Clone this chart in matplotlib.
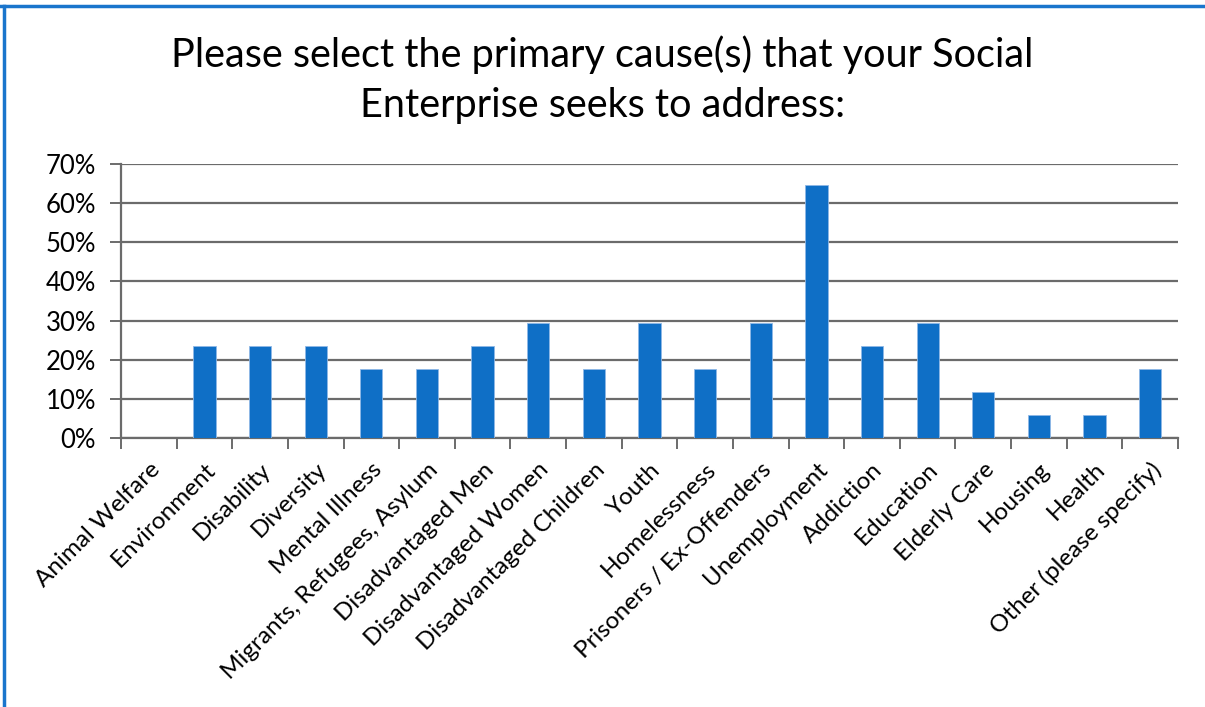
import matplotlib.pyplot as plt
import matplotlib.lines as mlines
import numpy as np
from matplotlib.ticker import PercentFormatter

plt.rcParams['font.family'] = ['Lato', 'DejaVu Sans']

causes = ['Animal Welfare', 'Environment', 'Disability', 'Diversity', 'Mental Illness',
          'Migrants, Refugees, Asylum', 'Disadvantaged Men', 'Disadvantaged Women',
          'Disadvantaged Children', 'Youth', 'Homelessness', 'Prisoners / Ex-Offenders',
          'Unemployment', 'Addiction', 'Education', 'Elderly Care', 'Housing', 'Health',
          'Other (please specify)']
share = [0.0, 23.5, 23.5, 23.5, 17.6, 17.6, 23.5, 29.4, 17.6, 29.4, 17.6, 29.4,
         64.7, 23.5, 29.4, 11.8, 5.9, 5.9, 17.6]
y_ticks = [0, 10, 20, 30, 40, 50, 60, 70]

bar_color = '#0f6fc6'
grid_color = '#6b6b6b'

fig = plt.figure(figsize=(12.05, 7.07), dpi=100)
ax = fig.add_axes([121 / 1205, 269 / 707, 1057 / 1205, 274 / 707])

x = np.arange(len(causes))
ax.bar(x, share, width=0.4, color=bar_color, edgecolor='#8fb8e6', linewidth=0.6, zorder=3)

ax.set_xlim(-0.5, len(causes) - 0.5)
ax.set_ylim(0, 70)
ax.set_yticks(y_ticks)
ax.yaxis.set_major_formatter(PercentFormatter(decimals=0))
ax.grid(axis='y', color=grid_color, linewidth=1.6, zorder=0)

# category boundary ticks on the x axis, labels centred under bars
ax.set_xticks(np.arange(len(causes) + 1) - 0.5)
ax.set_xticklabels([])
ax.set_xticks(x, minor=True)
ax.set_xticklabels(causes, minor=True, rotation=45, ha='right', va='top',
                   rotation_mode='anchor', fontsize=17.5)
ax.tick_params(axis='x', which='major', length=8, width=1.4, color=grid_color, direction='out')
ax.tick_params(axis='x', which='minor', length=0, pad=15)
ax.tick_params(axis='y', length=8, width=1.4, color=grid_color, labelsize=18.5, pad=10)

for side in ['top', 'right']:
    ax.spines[side].set_visible(False)
for side in ['left', 'bottom']:
    ax.spines[side].set_color(grid_color)
    ax.spines[side].set_linewidth(1.6)

fig.text(0.5, 1 - 55 / 707, 'Please select the primary cause(s) that your Social',
         ha='center', va='center', fontsize=28.5)
fig.text(0.5, 1 - 106 / 707, 'Enterprise seeks to address:',
         ha='center', va='center', fontsize=28.5)

# chart frame: top and left edges only
frame_color = '#1a75cc'
fig.add_artist(mlines.Line2D([0, 1], [1 - 5.5 / 707] * 2, color=frame_color, linewidth=2.5,
                             transform=fig.transFigure))
fig.add_artist(mlines.Line2D([3.5 / 1205] * 2, [0, 1 - 5.5 / 707], color=frame_color,
                             linewidth=2.5, transform=fig.transFigure))

fig.savefig('out.png', dpi=100)
